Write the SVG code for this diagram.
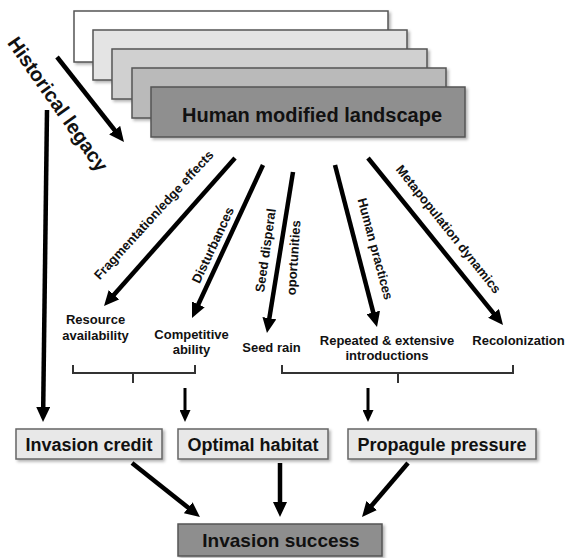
<svg xmlns="http://www.w3.org/2000/svg" width="567" height="558" viewBox="0 0 567 558">
<style>
  text { font-family: "Liberation Sans", Arial, sans-serif; font-weight: bold; fill: #111; }
  .layer { stroke: #555; stroke-width: 1.5; filter: url(#sh); }
  .box { fill: #e8e8e8; stroke: #666; stroke-width: 1.5; filter: url(#sh); }
  .dark { fill: #8e8e8e; stroke: #555; stroke-width: 1.5; filter: url(#sh); }
  .lbl { font-size: 13px; text-anchor: middle; }
  .bl { font-size: 18px; text-anchor: middle; }
  .arr { stroke: #000; stroke-width: 4.5; fill: none; marker-end: url(#ah); }
  .sarr { stroke: #000; stroke-width: 3; fill: none; marker-end: url(#sah); }
  .brk { stroke: #333; stroke-width: 2; fill: none; }
</style>
<defs>
  <filter id="sh" x="-10%" y="-10%" width="130%" height="140%">
    <feDropShadow dx="2" dy="2" stdDeviation="1.5" flood-color="#000" flood-opacity="0.3"/>
  </filter>
  <marker id="ah" markerUnits="userSpaceOnUse" markerWidth="15" markerHeight="14" viewBox="0 -7 15 14" refX="1" refY="0" orient="auto">
    <path d="M0,-7 L15,0 L0,7 z" fill="#000"/>
  </marker>
  <marker id="sah" markerUnits="userSpaceOnUse" markerWidth="12" markerHeight="11" viewBox="0 -5.5 12 11" refX="1" refY="0" orient="auto">
    <path d="M0,-5.5 L12,0 L0,5.5 z" fill="#000"/>
  </marker>
</defs>

<g id="landscape">
  <rect class="layer" x="74" y="11" width="314" height="51" fill="#ffffff"/>
  <rect class="layer" x="93" y="30" width="314" height="50" fill="#e4e4e4"/>
  <rect class="layer" x="112" y="49" width="315" height="50" fill="#d0d0d0"/>
  <rect class="layer" x="132" y="68" width="314" height="50" fill="#bababa"/>
  <rect class="layer" x="151" y="87" width="314" height="50" fill="#8f8f8f"/>
  <text x="312" y="122" font-size="20" text-anchor="middle">Human modified landscape</text>
</g>

<g id="historical-legacy">
  <text x="0" y="0" font-size="20" text-anchor="middle" dominant-baseline="central" transform="translate(58,104) rotate(55)">Historical legacy</text>
</g>

<g id="connectors">
  <line class="arr" x1="57" y1="57" x2="115.3" y2="131"/>
  <line class="arr" x1="47" y1="110" x2="43.2" y2="408"/>
  <line class="arr" x1="235" y1="158" x2="113.3" y2="295.5"/>
  <line class="arr" x1="263" y1="165" x2="197.9" y2="305.3"/>
  <line class="arr" x1="293" y1="172" x2="269.2" y2="319.2"/>
  <line class="arr" x1="335" y1="165" x2="373.5" y2="313.4"/>
  <line class="arr" x1="368" y1="158" x2="494.2" y2="314.1"/>
  <line class="sarr" x1="185" y1="388" x2="185" y2="411"/>
  <line class="sarr" x1="368" y1="388" x2="368" y2="411"/>
  <line class="arr" x1="132" y1="463" x2="189" y2="508.3"/>
  <line class="arr" x1="280" y1="463" x2="280" y2="503"/>
  <line class="arr" x1="408" y1="463" x2="371.1" y2="506.3"/>
  <path class="brk" d="M73,365 V373 H195 V365 M133,373 V383"/>
  <path class="brk" d="M282,365 V373 H513 V365 M398,373 V383"/>
</g>

<g id="edge-labels">
  <text class="lbl" transform="translate(157,218) rotate(-47.5)">Fragmentation/edge effects</text>
  <text class="lbl" transform="translate(217,247) rotate(-65)">Disturbances</text>
  <text class="lbl" transform="translate(270,251) rotate(-82)">Seed disperal</text>
  <text class="lbl" transform="translate(298,258) rotate(-86)">oportunities</text>
  <text class="lbl" transform="translate(371,250) rotate(75)">Human practices</text>
  <text class="lbl" transform="translate(445,232) rotate(51.5)">Metapopulation dynamics</text>
</g>

<g id="resource-availability">
  <text class="lbl" x="95.5" y="324">Resource</text>
  <text class="lbl" x="95.5" y="340">availability</text>
</g>
<g id="competitive-ability">
  <text class="lbl" x="191.5" y="339">Competitive</text>
  <text class="lbl" x="191.5" y="354">ability</text>
</g>
<g id="seed-rain">
  <text class="lbl" x="271.5" y="352">Seed rain</text>
</g>
<g id="repeated-introductions">
  <text class="lbl" x="387" y="345">Repeated &amp; extensive</text>
  <text class="lbl" x="387" y="360">introductions</text>
</g>
<g id="recolonization">
  <text class="lbl" x="518.5" y="345">Recolonization</text>
</g>

<g id="invasion-credit">
  <rect class="box" x="16" y="429" width="146" height="30"/>
  <text class="bl" x="89" y="451">Invasion credit</text>
</g>
<g id="optimal-habitat">
  <rect class="box" x="178" y="429" width="150" height="30"/>
  <text class="bl" x="253" y="451">Optimal habitat</text>
</g>
<g id="propagule-pressure">
  <rect class="box" x="348" y="429" width="188" height="30"/>
  <text class="bl" x="442" y="451">Propagule pressure</text>
</g>
<g id="invasion-success">
  <rect class="dark" x="178" y="524" width="204" height="32"/>
  <text x="281" y="547" font-size="19" text-anchor="middle">Invasion success</text>
</g>
</svg>
